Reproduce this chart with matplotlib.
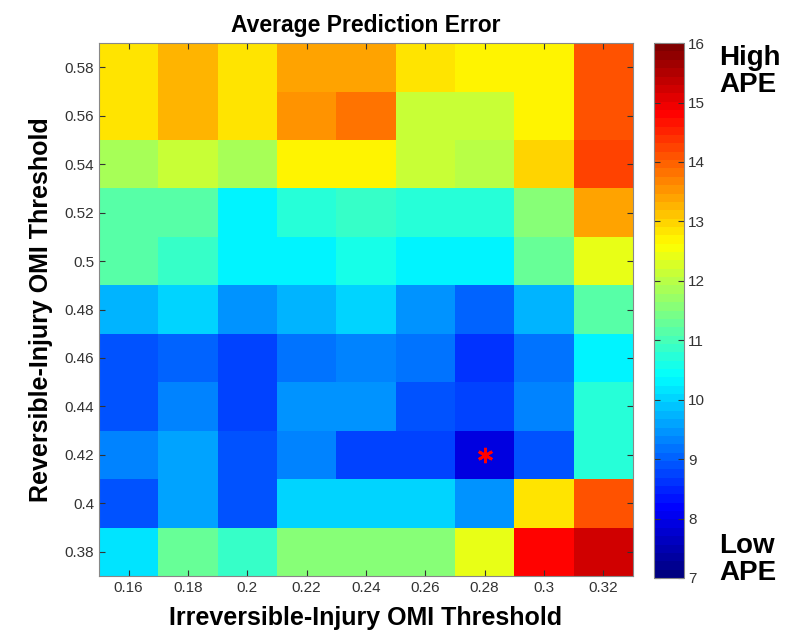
import numpy as np
import matplotlib
matplotlib.use("Agg")
import matplotlib.pyplot as plt
from matplotlib.colors import LinearSegmentedColormap

plt.rcParams['font.family'] = ['Liberation Sans', 'DejaVu Sans']

# thresholds
irreversible = [0.16, 0.18, 0.20, 0.22, 0.24, 0.26, 0.28, 0.30, 0.32]
reversible = [0.38, 0.40, 0.42, 0.44, 0.46, 0.48, 0.50, 0.52, 0.54, 0.56, 0.58]
xticklabels = ['0.16', '0.18', '0.2', '0.22', '0.24', '0.26', '0.28', '0.3', '0.32']
yticklabels = ['0.38', '0.4', '0.42', '0.44', '0.46', '0.48', '0.5', '0.52', '0.54', '0.56', '0.58']

# APE values, rows from 0.38 (bottom) up to 0.58 (top)
ape_038 = [10.2, 11.3, 10.9, 11.5, 11.5, 11.5, 12.45, 14.85, 15.25]
ape_040 = [8.95, 9.6, 8.95, 10.0, 10.0, 10.0, 9.4, 12.85, 14.1]
ape_042 = [9.35, 9.6, 8.95, 9.35, 8.72, 8.72, 7.85, 8.95, 10.75]
ape_044 = [8.95, 9.3, 8.69, 9.4, 9.4, 8.95, 8.72, 9.35, 10.75]
ape_046 = [8.88, 9.05, 8.69, 9.15, 9.25, 9.2, 8.6, 9.15, 10.35]
ape_048 = [9.8, 10.0, 9.44, 9.8, 10.0, 9.44, 9.06, 9.8, 11.1]
ape_050 = [11.15, 10.9, 10.35, 10.35, 10.57, 10.35, 10.35, 11.3, 12.4]
ape_052 = [11.1, 11.1, 10.35, 10.75, 10.9, 10.75, 10.75, 11.5, 13.4]
ape_054 = [11.9, 12.2, 11.9, 12.65, 12.65, 12.2, 12.06, 13.0, 14.3]
ape_056 = [12.9, 13.3, 12.9, 13.6, 13.75, 12.2, 12.2, 12.65, 14.1]
ape_058 = [12.9, 13.3, 12.9, 13.4, 13.4, 12.85, 12.65, 12.65, 14.1]

best_x = 0.28
best_y = 0.42

Z = np.array([ape_038, ape_040, ape_042, ape_044, ape_046, ape_048,
              ape_050, ape_052, ape_054, ape_056, ape_058])

# matlab style jet, 64 steps
jet_pts = [(0.0, (0, 0, 0.5)), (0.125, (0, 0, 1)), (0.375, (0, 1, 1)),
           (0.625, (1, 1, 0)), (0.875, (1, 0, 0)), (1.0, (0.5, 0, 0))]
cmap = LinearSegmentedColormap.from_list('mjet', jet_pts, N=64)

fig = plt.figure(figsize=(7.87, 6.39), dpi=100)
ax = fig.add_axes([0.1258, 0.0986, 0.6785, 0.834])
cax = fig.add_axes([0.831, 0.0955, 0.038, 0.837])

im = ax.imshow(Z, origin='lower', cmap=cmap, vmin=7, vmax=16, aspect='auto',
               extent=[0.15, 0.33, 0.37, 0.59], interpolation='nearest')
ax.plot(best_x, best_y, marker=(6, 2, 0), color='red', markersize=11, mew=2)

ax.set_xticks(irreversible)
ax.set_xticklabels(xticklabels)
ax.set_yticks(reversible)
ax.set_yticklabels(yticklabels)
ax.tick_params(direction='in', top=True, right=True, labelsize=11, length=4, colors='#333333')
for s in ax.spines.values():
    s.set_color('#888888')

ax.set_title('Average Prediction Error', fontsize=16.5, fontweight='bold', pad=8)
ax.set_xlabel('Irreversible-Injury OMI Threshold', fontsize=18, fontweight='bold', labelpad=8)
ax.set_ylabel('Reversible-Injury OMI Threshold', fontsize=18, fontweight='bold', labelpad=8)

cb = fig.colorbar(im, cax=cax, ticks=range(7, 17))
cb.ax.tick_params(direction='in', left=True, right=True, labelsize=11, length=4,
                  colors='#333333', pad=3)
cb.outline.set_edgecolor('#888888')

fig.text(0.914, 0.888, 'High\nAPE', fontsize=20, fontweight='bold', va='center', ha='left', linespacing=1.05)
fig.text(0.914, 0.125, 'Low\nAPE', fontsize=20, fontweight='bold', va='center', ha='left', linespacing=1.05)

fig.savefig('out.png', dpi=100)
